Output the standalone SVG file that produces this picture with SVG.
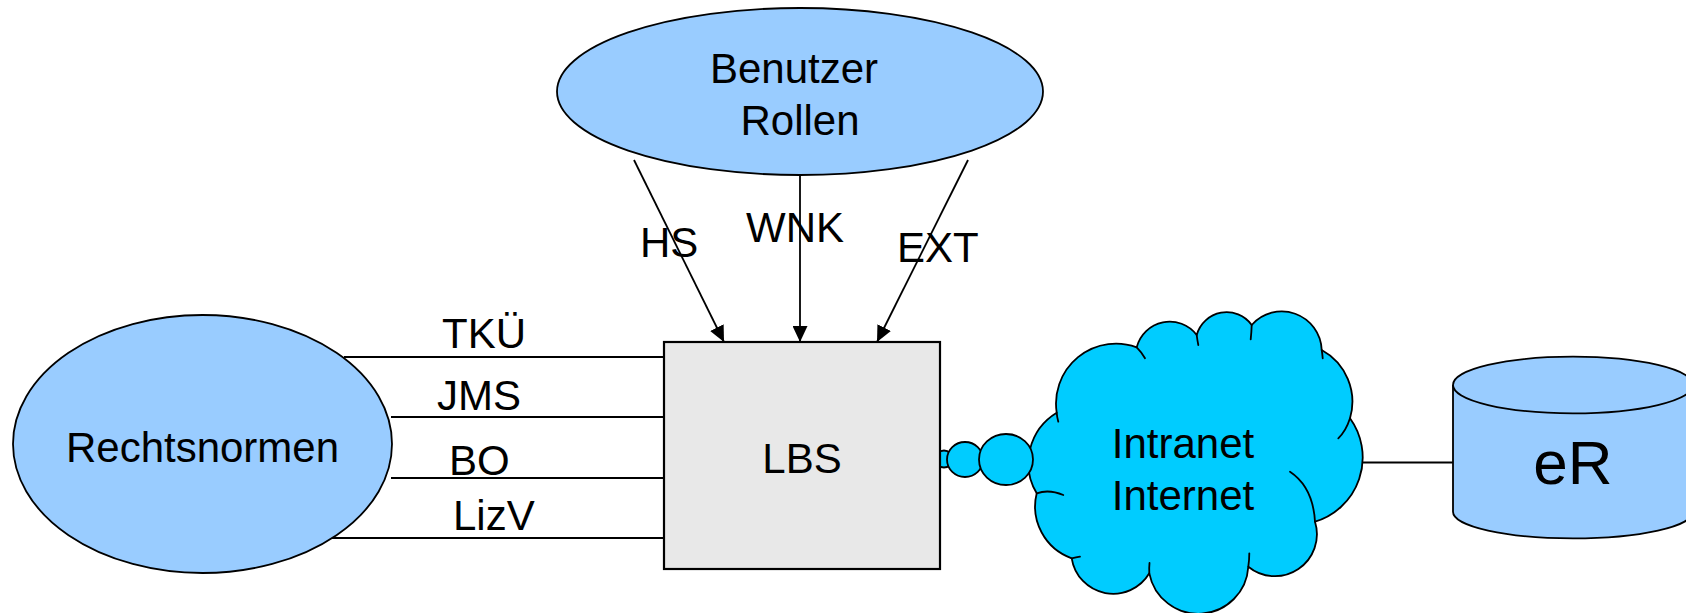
<svg xmlns="http://www.w3.org/2000/svg" width="1686" height="613" viewBox="0 0 1686 613">
  <style>
    text { font-family: "Liberation Sans", Arial, sans-serif; font-size: 42px; fill: #000; }
    .oval { fill: #99ccff; stroke: #000; stroke-width: 1.8; }
    .box { fill: #e8e8e8; stroke: #000; stroke-width: 2.2; }
    .cloud { fill: #00ccff; stroke: #000; stroke-width: 1.8; stroke-linejoin: round; }
    .hook { fill: none; stroke: #000; stroke-width: 1.8; stroke-linecap: round; }
    .link { fill: none; stroke: #000; stroke-width: 1.8; }
    .mid { text-anchor: middle; }
  </style>
  <defs>
    <marker id="head" markerUnits="userSpaceOnUse" markerWidth="16" markerHeight="15" refX="16" refY="7.5" orient="auto">
      <path d="M0,0 L16,7.5 L0,15 Z" fill="#000"/>
    </marker>
  </defs>

  <rect width="1686" height="613" fill="#fff"/>

  <!-- connectors -->
  <g id="connectors">
    <line class="link" x1="344" y1="357" x2="664" y2="357"/>
    <line class="link" x1="391" y1="417" x2="664" y2="417"/>
    <line class="link" x1="391" y1="478" x2="664" y2="478"/>
    <line class="link" x1="332" y1="538" x2="664" y2="538"/>
    <line class="link" x1="634" y1="160" x2="724" y2="342" marker-end="url(#head)"/>
    <line class="link" x1="800" y1="175" x2="800" y2="342" marker-end="url(#head)"/>
    <line class="link" x1="968" y1="160" x2="877" y2="342" marker-end="url(#head)"/>
    <line class="link" x1="1360" y1="462.5" x2="1453" y2="462.5"/>
    <text x="484" y="348" class="mid">TKÜ</text>
    <text x="437" y="410">JMS</text>
    <text x="449" y="475">BO</text>
    <text x="453" y="530">LizV</text>
    <text x="640" y="257">HS</text>
    <text x="746" y="242">WNK</text>
    <text x="897" y="262">EXT</text>
  </g>

  <!-- user roles -->
  <g id="benutzer-rollen">
    <ellipse class="oval" cx="800" cy="91.5" rx="243" ry="83.5"/>
    <text x="794" y="83" class="mid">Benutzer</text>
    <text x="800" y="135" class="mid">Rollen</text>
  </g>

  <!-- legal norms -->
  <g id="rechtsnormen">
    <ellipse class="oval" cx="202.5" cy="444" rx="189.5" ry="129"/>
    <text x="202.5" y="462" class="mid">Rechtsnormen</text>
  </g>

  <!-- network cloud with thought bubbles -->
  <g id="netz">
    <path class="cloud" d="M1056.7,412.7
      A60,60 0 0 1 1136.7,347.3
      A34,34 0 0 1 1196.7,335
      A31,31 0 0 1 1251.7,325
      A40,40 0 0 1 1321.7,350
      A59,59 0 0 1 1350,418.3
      A67,67 0 0 1 1315,521.7
      A42,42 0 0 1 1248.3,566.7
      A50,50 0 0 1 1149.3,573.3
      A42,42 0 0 1 1071.7,558.3
      A55,55 0 0 1 1036.7,493.3
      A59,59 0 0 1 1056.7,412.7 Z"/>
    <path class="hook" d="M1056.7,412.7 Q1057,417 1058.3,421.7"/>
    <path class="hook" d="M1136.7,347.3 Q1141.5,352 1145,358.3"/>
    <path class="hook" d="M1196.7,335 Q1197.3,340 1198.3,345"/>
    <path class="hook" d="M1251.7,325 Q1251.5,332 1250.7,339.3"/>
    <path class="hook" d="M1321.7,350 Q1322.4,354 1322.7,358.3"/>
    <path class="hook" d="M1350,418.3 Q1346,431 1338.3,438.3"/>
    <path class="hook" d="M1315,521.7 Q1313,487 1290,471.7"/>
    <path class="hook" d="M1248.3,566.7 Q1249.3,560 1249.3,553.3"/>
    <path class="hook" d="M1149.3,573.3 Q1149,568 1149.5,563"/>
    <path class="hook" d="M1071.7,558.3 Q1076,557.5 1080,556.7"/>
    <path class="hook" d="M1036.7,493.3 Q1049,489 1063.3,495"/>
    <ellipse class="cloud" cx="944" cy="459" rx="8.5" ry="8.5"/>
    <ellipse class="cloud" cx="965" cy="459.5" rx="18" ry="17.5"/>
    <ellipse class="cloud" cx="1006" cy="459.5" rx="27" ry="25.5"/>
    <text x="1183" y="458" class="mid">Intranet</text>
    <text x="1183" y="510" class="mid">Internet</text>
  </g>

  <!-- LBS block -->
  <g id="lbs">
    <rect class="box" x="664" y="342" width="276" height="227"/>
    <text x="802" y="473" class="mid">LBS</text>
  </g>

  <!-- repository cylinder -->
  <g id="er">
    <path class="oval" d="M1453,385 L1453,511.7 A120,26.7 0 0 0 1693,511.7 L1693,385"/>
    <ellipse class="oval" cx="1573" cy="385" rx="120" ry="28.3"/>
    <text x="1573" y="484" class="mid" style="font-size:62px">eR</text>
  </g>
</svg>
